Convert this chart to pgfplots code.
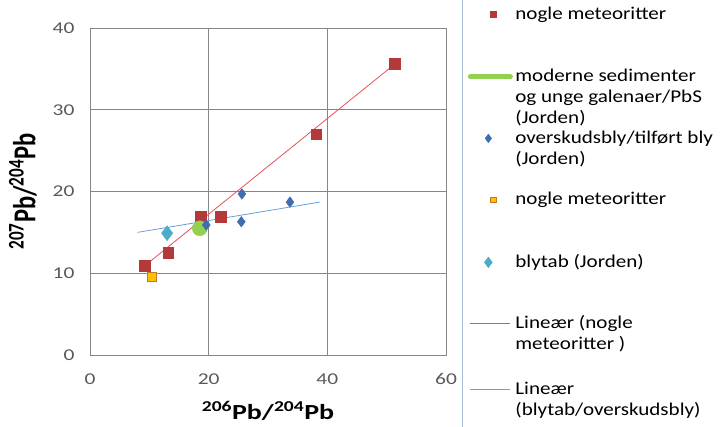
\documentclass[border=0pt]{standalone}
\usepackage{graphicx}
\usepackage{pgfplots}
\pgfplotsset{compat=1.18}
\usepackage{fontspec}
\setmainfont{Carlito}[FakeStretch=1.3]
\newfontfamily\plainfont{Carlito}
\newfontfamily\legfont{Carlito}[FakeStretch=1.17]
\definecolor{mred}{HTML}{B3393A}
\definecolor{mblue}{HTML}{3E6DB0}
\definecolor{mcyan}{HTML}{4BACC6}
\definecolor{myel}{HTML}{FFC000}
\definecolor{myelo}{HTML}{C07A20}
\definecolor{mgreen}{HTML}{92D050}
\definecolor{tred}{HTML}{E8505B}
\definecolor{tblue}{HTML}{6A9FD8}
\definecolor{gridc}{HTML}{868686}
\definecolor{tickc}{HTML}{595959}
\definecolor{legb}{HTML}{A8BCD8}
\newcommand\lent[3]{\raisebox{0pt}[#1][#2]{\parbox[t]{240pt}{#3}}}
\begin{document}
\begin{tikzpicture}
\begin{axis}[
  at={(90pt,71pt)}, anchor=south west,
  width=356pt, height=327pt, scale only axis,
  xmin=0, xmax=60, ymin=0, ymax=40,
  xtick={0,20,40,60}, ytick={0,10,20,30,40},
  grid=major, major grid style={gridc, line width=0.8pt},
  axis line style={gridc, line width=0.8pt},
  tick style={draw=none},
  /pgf/number format/assume math mode=true,
  ticklabel style={font=\fontsize{16.5}{19}\selectfont, text=tickc},
  xticklabel style={yshift=-15pt},
  yticklabel style={xshift=-12pt},
  xlabel={\fontsize{21.5}{24}\selectfont\bfseries\textsuperscript{206}Pb/\textsuperscript{204}Pb},
  ylabel={\scalebox{1}[1.3]{\plainfont\fontsize{24.5}{26}\selectfont\bfseries\textsuperscript{207}Pb/\textsuperscript{204}Pb}},
  xlabel style={yshift=-10pt},
  ylabel style={yshift=9pt},
  legend style={at={(axis description cs:1.0449,1.3028)}, anchor=north west,
    draw=legb, line width=0.8pt, fill=white, inner xsep=5.5pt, inner ysep=60pt,
    row sep=0pt, column sep=2.5pt,
    font=\legfont\fontsize{18}{21}\selectfont,
    cells={anchor=base west},
    nodes={inner sep=0pt}},
]
\addplot[only marks, mark=square*, mark size=5.3pt, mred, mark options={fill=mred, draw=mred},
  legend image code/.code={\draw[only marks, mark=square*, mark size=3pt, mred, mark options={fill=mred}] plot coordinates {(23pt,5pt)};}]
  coordinates {(9.2,10.9) (13.2,12.5) (18.7,16.9) (22.0,16.9) (38.1,27.0) (51.4,35.6)};
\addlegendentry{\lent{30pt}{0pt}{nogle meteoritter}}
\addplot[only marks, mark=*, mark size=7.5pt, mgreen, mark options={fill=mgreen, draw=mgreen},
  legend image code/.code={\draw[mgreen, line width=5pt, line cap=round] (0pt,5pt) -- (40pt,5pt);}]
  coordinates {(18.5,15.5)};
\addlegendentry{\lent{61pt}{0pt}{moderne sedimenter\\og unge galenaer/PbS\\(Jorden)}}
\addplot[only marks, mark=diamond*, mark size=5.3pt, mblue, mark options={fill=mblue, draw=mblue},
  legend image code/.code={\draw[only marks, mark=diamond*, mark size=4pt, mblue, mark options={fill=mblue}] plot coordinates {(18pt,5pt)};}]
  coordinates {(25.6,19.7) (33.7,18.7) (25.5,16.3) (19.6,15.9)};
\addlegendentry{\lent{60pt}{0pt}{overskudsbly/tilført bly\\(Jorden)}}
\addplot[only marks, mark=square*, mark size=4.5pt, myel, mark options={fill=myel, draw=myelo, line width=0.8pt},
  legend image code/.code={\draw[only marks, mark=square*, mark size=2.7pt, myel, mark options={fill=myel, draw=myelo, line width=0.6pt}] plot coordinates {(23pt,5pt)};}]
  coordinates {(10.4,9.5)};
\addlegendentry{\lent{60pt}{0pt}{nogle meteoritter}}
\addplot[only marks, mark=diamond*, mark size=7.5pt, mcyan, mark options={fill=mcyan, draw=mcyan},
  legend image code/.code={\draw[only marks, mark=diamond*, mark size=5pt, mcyan, mark options={fill=mcyan}] plot coordinates {(18pt,5pt)};}]
  coordinates {(13.0,14.9)};
\addlegendentry{\lent{61pt}{0pt}{blytab (Jorden)}}
\addplot[tred, line width=0.8pt,
  legend image code/.code={\draw[tred, line width=0.8pt] (0pt,5pt) -- (40pt,5pt);}]
  coordinates {(9.2,10.9) (51.4,35.6)};
\addlegendentry{\lent{60pt}{0pt}{Lineær (nogle\\meteoritter )}}
\addplot[tblue, line width=0.8pt,
  legend image code/.code={\draw[tblue, line width=0.8pt] (0pt,5pt) -- (40pt,5pt);}]
  coordinates {(8.0,15.0) (38.7,18.7)};
\addlegendentry{\lent{64pt}{0pt}{Lineær\\(blytab/overskudsbly)}}
\end{axis}
\pgfresetboundingbox
\useasboundingbox (0,0) rectangle (720pt,426pt);
\end{tikzpicture}
\end{document}
